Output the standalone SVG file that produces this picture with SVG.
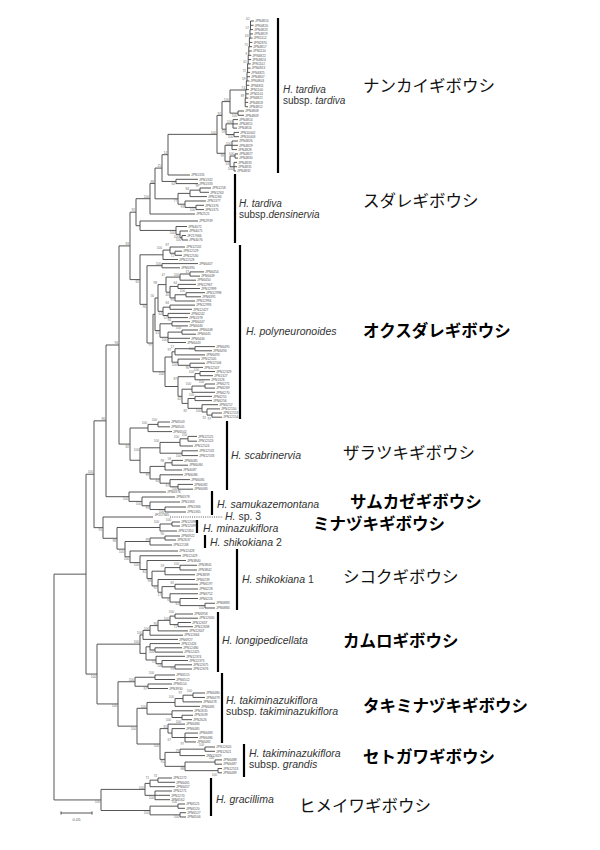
<svg xmlns="http://www.w3.org/2000/svg" width="600" height="850" viewBox="0 0 600 850">
<style>
.br{fill:none;stroke:#4d4d4d;stroke-width:0.95}
.tp{font-family:"Liberation Sans",Arial,sans-serif;font-size:3.3px;fill:#555}
.bs{font-family:"Liberation Sans",Arial,sans-serif;font-size:3.3px;fill:#777;text-anchor:end}
.bar{stroke:#000;stroke-width:2.2}
.sp{font-family:"Liberation Sans",Arial,sans-serif;font-size:10.5px;fill:#333}
.s2{font-size:10px}
.it{font-style:italic}
.jp{font-family:"Noto Sans CJK JP","Noto Sans CJK SC",sans-serif;font-size:16.5px;fill:#111}
.jb{font-weight:bold;fill:#000}
</style>
<rect width="600" height="850" fill="#fff"/>
<g id="connectors">
<path class="br" d="M250.5,21 V29.6 H250 V38.1 H249.4 V46.7 H248.8 V55.3 H248.2 V63.9 H247.6 V72.4 H247 V81 H246.4 V89.6 H245.8 V98.1 H245.2 V106.7
M250.5,21H254 M250.5,25.3H253.5 M250,29.6H253 M250,33.9H253 M249.4,38.1H252.5 M249.4,42.4H252.4 M248.8,46.7H252 M248.8,51H251.8 M248.2,55.3H251.3 M248.2,59.6H251.2 M247.6,63.9H250.7 M247.6,68.1H250.6 M247,72.4H250.1 M247,76.7H250 M246.4,81H249.5 M246.4,85.3H249.4 M245.8,89.6H248.9 M245.8,93.9H248.8 M245.2,98.1H248.3 M245.2,102.4H248.2 M245.2,106.7H248
M238,111V115.3 M238,111H244 M238,115.3H244
M230,90V113.15 M230,90H245.8 M230,113.15H238
M233,119.6V128.1 M233,119.6H238 M233,123.9H238 M233,128.1H237
M234,132.4V136.7 M234,132.4H239 M234,136.7H239
M226,123.85V134.55 M226,123.85H233 M226,134.55H234
M222,101.6V129.2 M222,101.6H230 M222,129.2H226
M232,141V149.6 M232,141H238 M232,145.3H238 M232,149.6H237
M235,153.9V158.1 M235,153.9H238 M235,158.1H238
M234,162.4V171 M234,162.4H237 M234,166.7H237 M234,171H236
M230,156V166.7 M230,156H235 M230,166.7H234
M225,145.3V161.35 M225,145.3H232 M225,161.35H230
M217,115.4V153.3 M217,115.4H222 M217,153.3H225"/>
<path class="br" d="M168,134.35V175 M168,134.35H217 M168,175H190
M176,179.3V183.6 M176,179.3H198 M176,183.6H198
M162,154.7V181.45 M162,154.7H168 M162,181.45H176
M200,188V192.3 M200,188H211 M200,192.3H209
M190,190.15V196.6 M190,190.15H200 M190,196.6H207
M196,205.3V209.6 M196,205.3H204 M196,209.6H204
M185,201V207.45 M185,201H206 M185,207.45H196
M178,193.4V204.2 M178,193.4H190 M178,204.2H185
M155,168.1V198.8 M155,168.1H162 M155,198.8H178
M150,183.45V214 M150,183.45H155 M150,214H195
M182,235.5V240 M182,235.5H186 M182,240H188
M180,231V237.75 M180,231H188 M180,237.75H182
M176,226.5V234.4 M176,226.5H187 M176,234.4H180
M140,221V230.45 M140,221H198 M140,230.45H176
M136,198.7V225.7 M136,198.7H150 M136,225.7H140"/>
<path class="br" d="M175,251.2V255.3 M175,251.2H182 M175,255.3H182
M170,247V253.25 M170,247H185 M170,253.25H175
M163,250.1V259.5 M163,250.1H170 M163,259.5H178
M162,263.6V267.8 M162,263.6H198 M162,267.8H180
M190,271.9V276.1 M190,271.9H204 M190,276.1H200
M180,274V280.2 M180,274H190 M180,280.2H196
M178,284.4V288.5 M178,284.4H196 M178,288.5H200
M186,292.7V296.8 M186,292.7H205 M186,296.8H201
M175,294.75V301 M175,294.75H186 M175,301H195
M170,286.45V297.9 M170,286.45H178 M170,297.9H175
M166,277.1V292.2 M166,277.1H180 M166,292.2H170
M170,305.1V309.3 M170,305.1H195 M170,309.3H192
M168,313.4V317.6 M168,313.4H190 M168,317.6H188
M163,307.2V315.5 M163,307.2H170 M163,315.5H168
M158,284.6V311.35 M158,284.6H166 M158,311.35H163
M172,321.7V325.9 M172,321.7H190 M172,325.9H188
M182,330V334.2 M182,330H198 M182,334.2H196
M168,332.1V342.5 M168,332.1H182 M168,338.3H190 M168,342.5H186
M160,323.8V337.3 M160,323.8H172 M160,337.3H168
M155,298V330.55 M155,298H158 M155,330.55H160
M195,346.6V350.8 M195,346.6H215 M195,350.8H212
M175,348.7V354.9 M175,348.7H195 M175,354.9H205
M190,363.2V367.4 M190,363.2H205 M190,367.4H203
M178,359.1V365.3 M178,359.1H200 M178,365.3H190
M172,351.8V362.2 M172,351.8H175 M172,362.2H178
M200,371.5V375.7 M200,371.5H215 M200,375.7H213
M195,373.6V379.8 M195,373.6H200 M195,379.8H210
M205,384V388.1 M205,384H215 M205,388.1H215
M192,386.05V392.3 M192,386.05H205 M192,392.3H215
M195,396.4V400.6 M195,396.4H212 M195,400.6H212
M212,413V417.2 M212,413H222 M212,417.2H222
M207,408.9V415.1 M207,408.9H220 M207,415.1H212
M202,404.7V412 M202,404.7H218 M202,412H207
M188,398.5V408.35 M188,398.5H195 M188,408.35H202
M182,389.2V403.4 M182,389.2H192 M182,403.4H188
M178,376.7V396.3 M178,376.7H195 M178,396.3H182
M165,357V386.5 M165,357H172 M165,386.5H178
M153,314.3V371.75 M153,314.3H155 M153,371.75H165
M147,265.7V343 M147,265.7H162 M147,343H153
M140,254.8V304.35 M140,254.8H163 M140,304.35H147
M130,212.2V279.6 M130,212.2H136 M130,279.6H140"/>
<path class="br" d="M158,422V426.8 M158,422H170 M158,426.8H170
M148,424.4V431.6 M148,424.4H158 M148,431.6H172
M188,436.4V441.2 M188,436.4H197 M188,441.2H197
M180,438.8V446 M180,438.8H188 M180,446H193
M182,450.8V455.6 M182,450.8H198 M182,455.6H198
M160,442.4V453.2 M160,442.4H180 M160,453.2H182
M172,460.4V465.2 M172,460.4H183 M172,465.2H188
M165,462.8V470 M165,462.8H172 M165,470H182
M178,484.4V489.2 M178,484.4H193 M178,489.2H193
M170,479.6V486.8 M170,479.6H190 M170,486.8H178
M160,474.8V483.2 M160,474.8H183 M160,483.2H170
M150,466.4V479 M150,466.4H165 M150,479H160
M140,447.8V472.7 M140,447.8H160 M140,472.7H150
M130,428V460.25 M130,428H148 M130,460.25H140
M119,245.9V444.1 M119,245.9H130 M119,444.1H130"/>
<path class="br" d="M165,507V512 M165,507H186 M165,512H186
M150,502V509.5 M150,502H180 M150,509.5H165
M142,497V505.75 M142,497H175 M142,505.75H150
M129,492V501.4 M129,492H166 M129,501.4H142
M106,345V496.7 M106,345H119 M106,496.7H129
M172,522V526 M172,522H180 M172,526H180
M160,524V531 M160,524H172 M160,531H177
M165,536V540 M165,536H180 M165,540H176
M150,538V545 M150,538H165 M150,545H172
M180,565.25V570 M180,565.25H197 M180,570H197
M165,567.6V574.75 M165,567.6H180 M165,574.75H195
M205,603.25V608 M205,603.25H215 M205,608H215
M180,598.5V605.6 M180,598.5H198 M180,605.6H205
M170,593.75V602.05 M170,593.75H198 M170,602.05H180
M175,584.25V589 M175,584.25H198 M175,589H198
M162,586.6V597.9 M162,586.6H175 M162,597.9H170
M158,579.5V592.25 M158,579.5H195 M158,592.25H162
M152,571.2V585.9 M152,571.2H165 M152,585.9H158
M147,560.5V578.55 M147,560.5H186 M147,578.55H152
M140,555.75V569.5 M140,555.75H181 M140,569.5H147
M130,551V562.6 M130,551H178 M130,562.6H140
M125,541.5V556.8 M125,541.5H150 M125,556.8H130
M117,527.5V549.15 M117,527.5H160 M117,549.15H125
M103,517V538.3 M103,517H153 M103,538.3H117
M94,420.85V527.65 M94,420.85H106 M94,527.65H103"/>
<path class="br" stroke-dasharray="1,1.2" d="M170,517H223"/>
<path class="br" d="M175,614V618.2 M175,614H193 M175,618.2H198
M178,622.5V626.7 M178,622.5H191 M178,626.7H193
M170,616.1V624.6 M170,616.1H175 M170,624.6H178
M158,620.35V630.9 M158,620.35H170 M158,630.9H188
M150,625.6V635.2 M150,625.6H158 M150,635.2H183
M143,630.4V639.4 M143,630.4H150 M143,639.4H178
M155,647.8V652.1 M155,647.8H182 M155,652.1H183
M150,643.6V649.95 M150,643.6H180 M150,649.95H155
M175,664.8V669 M175,664.8H192 M175,669H192
M162,660.5V666.9 M162,660.5H188 M162,666.9H175
M156,656.3V663.7 M156,656.3H185 M156,663.7H162
M146,646.8V660 M146,646.8H150 M146,660H156
M140,634.9V653.4 M140,634.9H143 M140,653.4H146"/>
<path class="br" d="M155,675V679.5 M155,675H175 M155,679.5H175
M148,684V688.5 M148,684H172 M148,688.5H168
M135,677.25V686.25 M135,677.25H155 M135,686.25H148
M193,693V697.45 M193,693H205 M193,697.45H205
M183,695.2V701.9 M183,695.2H193 M183,701.9H202
M175,698.55V706.35 M175,698.55H183 M175,706.35H200
M182,715.25V719.7 M182,715.25H193 M182,719.7H192
M172,710.8V717.5 M172,710.8H193 M172,717.5H182
M147,702.45V714.15 M147,702.45H175 M147,714.15H172
M185,733.05V741.95 M185,733.05H198 M185,737.5H198 M185,741.95H196
M172,728.6V737.5 M172,728.6H185 M172,737.5H185
M168,724.15V733.05 M168,724.15H185 M168,733.05H172
M205,747V751.3 M205,747H215 M205,751.3H215
M180,749.15V755.6 M180,749.15H205 M180,755.6H205
M215,759.9V764.2 M215,759.9H222 M215,764.2H222
M218,768.5V772.8 M218,768.5H222 M218,772.8H222
M185,762.05V770.65 M185,762.05H215 M185,770.65H218
M165,752.4V766.35 M165,752.4H180 M165,766.35H185
M160,728.6V759.4 M160,728.6H168 M160,759.4H165
M137,708.3V744 M137,708.3H147 M137,744H160
M118,681.75V726.15 M118,681.75H135 M118,726.15H137
M97,644.15V703.95 M97,644.15H140 M97,703.95H118
M86,474.25V674.05 M86,474.25H94 M86,674.05H97"/>
<path class="br" d="M158,778V782.3 M158,778H172 M158,782.3H175
M150,780.15V786.7 M150,780.15H158 M150,786.7H175
M155,791V799.7 M155,791H172 M155,795.3H170 M155,799.7H170
M145,783.4V795.35 M145,783.4H150 M145,795.35H155
M178,804V808.3 M178,804H185 M178,808.3H185
M180,812.7V817 M180,812.7H186 M180,817H186
M150,806.15V814.85 M150,806.15H178 M150,814.85H180
M101,789.4V810.5 M101,789.4H145 M101,810.5H150
M54,574.15V799.95 M54,574.15H86 M54,799.95H101"/>
</g>
<g id="scale-bar">
<path class="br" d="M61,813H92 M61,811.4V814.6 M92,811.4V814.6"/>
<text x="76.5" y="820.5" font-family="Liberation Sans,Arial,sans-serif" font-size="4" fill="#555" text-anchor="middle">0.05</text>
</g>
<g id="backbone-support">
<text class="bs" x="100.2" y="803">100</text>
<text class="bs" x="93.2" y="473.4">100</text>
<text class="bs" x="96.2" y="677.5">100</text>
<text class="bs" x="105.2" y="420">86</text>
<text class="bs" x="102.2" y="531">91</text>
<text class="bs" x="118.2" y="344.2">94</text>
<text class="bs" x="128.2" y="500.1">100</text>
<text class="bs" x="129.2" y="245.1">83</text>
<text class="bs" x="129.2" y="447.5">82</text>
<text class="bs" x="116.2" y="541.7">98</text>
<text class="bs" x="117.2" y="707.35">100</text>
</g>
<g id="clade-tardiva">
<line class="bar" x1="278" y1="18" x2="278" y2="173"/>
<text class="sp s2" x="283" y="92.5"><tspan class="it">H. tardiva</tspan></text>
<text class="sp s2" x="283" y="103.5">subsp. <tspan class="it">tardiva</tspan></text>
<text class="jp" x="363" y="92">ナンカイギボウシ</text>
<text class="bs" x="249.7" y="20.4">62</text><text class="bs" x="249.2" y="28.8">57</text><text class="bs" x="248.6" y="37.3">63</text><text class="bs" x="248" y="45.9">75</text><text class="bs" x="247.4" y="54.5">8</text><text class="bs" x="246.8" y="63.1">61</text><text class="bs" x="246.2" y="71.6">72</text><text class="bs" x="245.6" y="80.2">59</text><text class="bs" x="245" y="88.8">74</text><text class="bs" x="244.4" y="97.3">89</text>
<text class="bs" x="216.2" y="133.5">100</text><text class="bs" x="221.2" y="114.6">92</text><text class="bs" x="224.2" y="156.7">99</text><text class="bs" x="229.2" y="100.8">100</text><text class="bs" x="225.2" y="132.6">59</text><text class="bs" x="237.2" y="116.6">100</text><text class="bs" x="232.2" y="123.1">100</text><text class="bs" x="233.2" y="137.9">100</text><text class="bs" x="231.2" y="144.5">100</text><text class="bs" x="229.2" y="164.7">63</text><text class="bs" x="234.2" y="155.2">100</text><text class="bs" x="233.2" y="170.1">100</text>
<text class="tp" x="255" y="22.2">JPN4810</text><text class="tp" x="254.5" y="26.5">JPN4820</text><text class="tp" x="254" y="30.8">JPN4823</text><text class="tp" x="254" y="35.1">JPN4819</text><text class="tp" x="253.5" y="39.3">JPN1112</text><text class="tp" x="253.4" y="43.6">JPN2870</text><text class="tp" x="253" y="47.9">JPN4817</text><text class="tp" x="252.8" y="52.2">JPN1110</text><text class="tp" x="252.3" y="56.5">JPN4822</text><text class="tp" x="252.2" y="60.8">JPN4824</text><text class="tp" x="251.7" y="65.1">JPN1102</text><text class="tp" x="251.6" y="69.3">JPN4813</text><text class="tp" x="251.1" y="73.6">JPN4825</text><text class="tp" x="251" y="77.9">JPN4807</text><text class="tp" x="250.5" y="82.2">JPN4803</text><text class="tp" x="250.4" y="86.5">JPN4811</text><text class="tp" x="249.9" y="90.8">JPN1100</text><text class="tp" x="249.8" y="95.1">JPN1101</text><text class="tp" x="249.3" y="99.3">JPN4821</text><text class="tp" x="249.2" y="103.6">JPN4818</text><text class="tp" x="249" y="107.9">JPN4812</text>
<text class="tp" x="245" y="112.2">JPN4808</text><text class="tp" x="245" y="116.5">JPN4809</text><text class="tp" x="239" y="120.8">JPN4814</text><text class="tp" x="239" y="125.1">JPN4815</text><text class="tp" x="238" y="129.3">JPN4816</text><text class="tp" x="240" y="133.6">JPN10002</text><text class="tp" x="240" y="137.9">JPN10003</text><text class="tp" x="239" y="142.2">JPN4826</text><text class="tp" x="239" y="146.5">JPN4829</text><text class="tp" x="238" y="150.8">JPN4828</text><text class="tp" x="239" y="155.1">JPN4827</text><text class="tp" x="239" y="159.3">JPN4830</text><text class="tp" x="238" y="163.6">JPN4833</text><text class="tp" x="238" y="167.9">JPN4831</text><text class="tp" x="237" y="172.2">JPN4832</text>
</g>
<g id="clade-densinervia">
<line class="bar" x1="235" y1="174" x2="235" y2="243"/>
<text class="sp s2" x="239" y="206.5"><tspan class="it">H. tardiva</tspan></text>
<text class="sp s2" x="239" y="217.5">subsp.<tspan class="it">densinervia</tspan></text>
<text class="jp" x="363" y="207">スダレギボウシ</text>
<text class="bs" x="135.2" y="211.4">92</text><text class="bs" x="149.2" y="197.9">100</text><text class="bs" x="154.2" y="182.6">88</text><text class="bs" x="161.2" y="167.3">25</text><text class="bs" x="167.2" y="153.9">14</text><text class="bs" x="175.2" y="184.9">64</text><text class="bs" x="177.2" y="202.2">77</text><text class="bs" x="189.2" y="189.6">84</text><text class="bs" x="199.2" y="187.3">99</text><text class="bs" x="184.2" y="207.6">93</text><text class="bs" x="195.2" y="210.9">100</text><text class="bs" x="175.2" y="233.9">100</text><text class="bs" x="179.2" y="237.8">100</text><text class="bs" x="181.2" y="241.2">100</text>
<text class="tp" x="191" y="176.2">JPN1331</text><text class="tp" x="199" y="180.5">JPN1332</text><text class="tp" x="199" y="184.8">JPN1333</text><text class="tp" x="212" y="189.2">JPN1258</text><text class="tp" x="210" y="193.5">JPN1263</text><text class="tp" x="208" y="197.8">JPN1266</text><text class="tp" x="207" y="202.2">JPN1377</text><text class="tp" x="205" y="206.5">JPN1376</text><text class="tp" x="205" y="210.8">JPN1375</text><text class="tp" x="196" y="215.2">JPN2521</text><text class="tp" x="199" y="222.2">JPN2939</text><text class="tp" x="188" y="227.7">JPN4072</text><text class="tp" x="189" y="232.2">JPN4071</text><text class="tp" x="187" y="236.7">JF217666</text><text class="tp" x="189" y="241.2">JPN4076</text>
</g>
<g id="clade-polyneuronoides">
<line class="bar" x1="240" y1="245" x2="240" y2="419"/>
<text class="sp" x="246" y="335"><tspan class="it">H. polyneuronoides</tspan></text>
<text class="jp jb" x="363" y="337">オクスダレギボウシ</text>
<text class="bs" x="139.2" y="283">82</text><text class="bs" x="162.2" y="249.3">100</text><text class="bs" x="169.2" y="246.2">87</text><text class="bs" x="174.2" y="256.65">71</text><text class="bs" x="161.2" y="264.9">100</text><text class="bs" x="146.2" y="307.75">96</text><text class="bs" x="152.2" y="346.4">97</text><text class="bs" x="154.2" y="297.2">56</text><text class="bs" x="164.2" y="375.15">100</text><text class="bs" x="157.2" y="283.8">98</text><text class="bs" x="159.2" y="333.95">61</text><text class="bs" x="165.2" y="276.3">47</text><text class="bs" x="162.2" y="314.75">64</text><text class="bs" x="179.2" y="276.3">100</text><text class="bs" x="189.2" y="273.4">37</text><text class="bs" x="169.2" y="295.6">46</text><text class="bs" x="177.2" y="283.6">64</text><text class="bs" x="174.2" y="301.3">91</text><text class="bs" x="185.2" y="291.9">100</text><text class="bs" x="169.2" y="304.3">84</text><text class="bs" x="167.2" y="318.9">52</text><text class="bs" x="171.2" y="320.9">94</text><text class="bs" x="167.2" y="340.7">100</text><text class="bs" x="181.2" y="329.2">100</text><text class="bs" x="171.2" y="351">97</text><text class="bs" x="174.2" y="347.9">17</text><text class="bs" x="194.2" y="349.6">100</text><text class="bs" x="177.2" y="365.6">100</text><text class="bs" x="189.2" y="368.7">96</text><text class="bs" x="177.2" y="379.9">87</text><text class="bs" x="194.2" y="372.8">100</text><text class="bs" x="199.2" y="370.7">100</text><text class="bs" x="181.2" y="399.7">62</text><text class="bs" x="191.2" y="385.2">100</text><text class="bs" x="204.2" y="383.2">100</text><text class="bs" x="187.2" y="411.75">82</text><text class="bs" x="194.2" y="395.6">100</text><text class="bs" x="201.2" y="411.75">100</text><text class="bs" x="206.2" y="418.5">92</text><text class="bs" x="211.2" y="420.4">97</text>
<text class="tp" x="186" y="248.2">JPN12532</text><text class="tp" x="183" y="252.4">JPN12529</text><text class="tp" x="183" y="256.5">JPN12530</text><text class="tp" x="179" y="260.7">JPN12528</text><text class="tp" x="199" y="264.8">JPN6407</text><text class="tp" x="181" y="269">JPN6390</text><text class="tp" x="205" y="273.1">JPN6454</text><text class="tp" x="201" y="277.3">JPN6449</text><text class="tp" x="197" y="281.4">JPN6450</text><text class="tp" x="197" y="285.6">JPN12967</text><text class="tp" x="201" y="289.7">JPN12999</text><text class="tp" x="206" y="293.9">JPN12998</text><text class="tp" x="202" y="298">JPN6391</text><text class="tp" x="196" y="302.2">JPN12994</text><text class="tp" x="196" y="306.3">JPN12993</text><text class="tp" x="193" y="310.5">JPN12427</text><text class="tp" x="191" y="314.6">JPN6242</text><text class="tp" x="189" y="318.8">JPN1378</text><text class="tp" x="191" y="322.9">JPN6447</text><text class="tp" x="189" y="327.1">JPN6446</text><text class="tp" x="199" y="331.2">JPN6448</text><text class="tp" x="197" y="335.4">JPN6445</text><text class="tp" x="191" y="339.5">JPN6444</text><text class="tp" x="187" y="343.7">JPN6443</text><text class="tp" x="216" y="347.8">JPN6495</text><text class="tp" x="213" y="352">JPN6494</text><text class="tp" x="206" y="356.1">JPN6493</text><text class="tp" x="201" y="360.3">JPN12505</text><text class="tp" x="206" y="364.4">JPN12506</text><text class="tp" x="204" y="368.6">JPN12507</text><text class="tp" x="216" y="372.7">JPN12329</text><text class="tp" x="214" y="376.9">JPN1327</text><text class="tp" x="211" y="381">JPN1326</text><text class="tp" x="216" y="385.2">JPN6271</text><text class="tp" x="216" y="389.3">JPN6269</text><text class="tp" x="216" y="393.5">JPN6270</text><text class="tp" x="213" y="397.6">JPN6255</text><text class="tp" x="213" y="401.8">JPN6256</text><text class="tp" x="219" y="405.9">JPN6257</text><text class="tp" x="221" y="410.1">JPN12150</text><text class="tp" x="223" y="414.2">JPN12153</text><text class="tp" x="223" y="418.4">JPN12154</text>
</g>
<g id="clade-scabrinervia">
<line class="bar" x1="227" y1="421" x2="227" y2="490"/>
<text class="sp" x="231" y="459"><tspan class="it">H. scabrinervia</tspan></text>
<text class="jp" x="343" y="459">ザラツキギボウシ</text>
<text class="bs" x="147.2" y="423.6">100</text><text class="bs" x="157.2" y="421.2">100</text><text class="bs" x="139.2" y="451.2">100</text><text class="bs" x="159.2" y="441.6">100</text><text class="bs" x="179.2" y="438">100</text><text class="bs" x="187.2" y="435.6">100</text><text class="bs" x="181.2" y="456.6">100</text><text class="bs" x="149.2" y="476.1">99</text><text class="bs" x="164.2" y="462">98</text><text class="bs" x="171.2" y="459.6">58</text><text class="bs" x="159.2" y="482.4">64</text><text class="bs" x="169.2" y="486.6">97</text><text class="bs" x="177.2" y="490.2">100</text>
<text class="tp" x="171" y="423.2">JPN6503</text><text class="tp" x="171" y="428">JPN6501</text><text class="tp" x="173" y="432.8">JPN6502</text><text class="tp" x="198" y="437.6">JPN12525</text><text class="tp" x="198" y="442.4">JPN12523</text><text class="tp" x="194" y="447.2">JPN12524</text><text class="tp" x="199" y="452">JPN12531</text><text class="tp" x="199" y="456.8">JPN12533</text><text class="tp" x="184" y="461.6">JPN6085</text><text class="tp" x="189" y="466.4">JPN6084</text><text class="tp" x="183" y="471.2">JPN4087</text><text class="tp" x="184" y="476">JPN6086</text><text class="tp" x="191" y="480.8">JPN6081</text><text class="tp" x="194" y="485.6">JPN6082</text><text class="tp" x="194" y="490.4">JPN6083</text>
</g>
<g id="clade-samukazemontana">
<line class="bar" x1="212" y1="491" x2="212" y2="515"/>
<text class="sp" x="217" y="508"><tspan class="it">H. samukazemontana</tspan></text>
<text class="jp jb" x="350" y="508">サムカゼギボウシ</text>
<text class="bs" x="141.2" y="504.8">100</text><text class="bs" x="149.2" y="509.15">99</text><text class="bs" x="164.2" y="512.9">100</text>
<text class="tp" x="167" y="493.2">JPN6376</text><text class="tp" x="176" y="498.2">JPN6378</text><text class="tp" x="181" y="503.2">JPN1363</text><text class="tp" x="187" y="508.2">JPN1366</text><text class="tp" x="187" y="513.2">JPN1365</text>
</g>
<g id="taxon-sp3">
<text class="tp" x="154.5" y="516">JF217665</text>
<text class="sp" x="225" y="519.5" font-size="10"><tspan class="it">H.</tspan> sp. 3</text>
</g>
<g id="clade-minazukiflora">
<line class="bar" x1="197" y1="520" x2="197" y2="533"/>
<text class="sp" x="203" y="531.5" font-size="10.2"><tspan class="it">H. minazukiflora</tspan></text>
<text class="jp jb" x="313" y="530">ミナヅキギボウシ</text>
<text class="bs" x="159.2" y="523.2">100</text><text class="bs" x="171.2" y="521.2">100</text>
<text class="tp" x="181" y="523.2">JPN12098</text><text class="tp" x="181" y="527.2">JPN12099</text><text class="tp" x="178" y="532.2">JPN12310</text>
</g>
<g id="clade-shikokiana2">
<line class="bar" x1="205" y1="535" x2="205" y2="548"/>
<text class="sp" x="210" y="546"><tspan class="it">H. shikokiana</tspan> 2</text>
<text class="bs" x="124.2" y="552.55">100</text><text class="bs" x="149.2" y="540.7">99</text><text class="bs" x="164.2" y="535.2">90</text>
<text class="tp" x="181" y="537.2">JPN6922</text><text class="tp" x="177" y="541.2">JPN2637</text><text class="tp" x="173" y="546.2">JPN12138</text>
</g>
<g id="clade-shikokiana1">
<line class="bar" x1="237" y1="549" x2="237" y2="610"/>
<text class="sp" x="242" y="583"><tspan class="it">H. shikokiana</tspan> 1</text>
<text class="jp" x="343" y="583">シコクギボウシ</text>
<text class="bs" x="129.2" y="560.2">100</text><text class="bs" x="139.2" y="566">100</text><text class="bs" x="146.2" y="572.9">81</text><text class="bs" x="151.2" y="581.95">98</text><text class="bs" x="164.2" y="566.8">59</text><text class="bs" x="179.2" y="564.5">100</text><text class="bs" x="157.2" y="589.3">92</text><text class="bs" x="161.2" y="595.65">17</text><text class="bs" x="174.2" y="583.6">82</text><text class="bs" x="169.2" y="601.3">6</text><text class="bs" x="179.2" y="605.45">62</text><text class="bs" x="204.2" y="609">100</text>
<text class="tp" x="179" y="552.2">JPN12428</text><text class="tp" x="182" y="556.95">JPN12429</text><text class="tp" x="187" y="561.7">JPN3840</text><text class="tp" x="198" y="566.45">JPN3841</text><text class="tp" x="198" y="571.2">JPN3842</text><text class="tp" x="196" y="575.95">JPN3839</text><text class="tp" x="196" y="580.7">JPN6239</text><text class="tp" x="199" y="585.45">JPN6197</text><text class="tp" x="199" y="590.2">JPN6228</text><text class="tp" x="199" y="594.95">JPN6752</text><text class="tp" x="199" y="599.7">JPN6226</text><text class="tp" x="216" y="604.45">JPN6883</text><text class="tp" x="216" y="609.2">JPN6884</text>
</g>
<g id="clade-longipedicellata">
<line class="bar" x1="218" y1="612" x2="218" y2="672"/>
<text class="sp" x="222" y="644"><tspan class="it">H. longipedicellata</tspan></text>
<text class="jp jb" x="343" y="647">カムロギボウシ</text>
<text class="bs" x="139.2" y="643.35">100</text><text class="bs" x="142.2" y="634.1">100</text><text class="bs" x="149.2" y="629.6">100</text><text class="bs" x="157.2" y="624.8">90</text><text class="bs" x="169.2" y="619.55">100</text><text class="bs" x="174.2" y="613.3">100</text><text class="bs" x="177.2" y="628">71</text><text class="bs" x="154.2" y="653.35">100</text><text class="bs" x="155.2" y="663.4">72</text><text class="bs" x="161.2" y="667.1">54</text><text class="bs" x="174.2" y="670.3">93</text>
<text class="tp" x="194" y="615.2">JPN6958</text><text class="tp" x="199" y="619.4">JPN12630</text><text class="tp" x="192" y="623.7">JPN12637</text><text class="tp" x="194" y="627.9">JPN12638</text><text class="tp" x="189" y="632.1">JPN12647</text><text class="tp" x="184" y="636.4">JPN12664</text><text class="tp" x="179" y="640.6">JPN6927</text><text class="tp" x="181" y="644.8">JPN12426</text><text class="tp" x="183" y="649">JPN12480</text><text class="tp" x="184" y="653.3">JPN12425</text><text class="tp" x="186" y="657.5">JPN12374</text><text class="tp" x="189" y="661.7">JPN12373</text><text class="tp" x="193" y="666">JPN12675</text><text class="tp" x="193" y="670.2">JPN12676</text>
</g>
<g id="clade-takiminazukiflora">
<line class="bar" x1="222" y1="673" x2="222" y2="743"/>
<text class="sp" x="226" y="704"><tspan class="it">H. takiminazukiflora</tspan></text>
<text class="sp" x="226" y="715">subsp. <tspan class="it">takiminazukiflora</tspan></text>
<text class="jp jb" x="363" y="712">タキミナヅキギボウシ</text>
<text class="bs" x="134.2" y="680.95">100</text><text class="bs" x="154.2" y="674.2">100</text><text class="bs" x="147.2" y="689.65">97</text><text class="bs" x="136.2" y="729.55">100</text><text class="bs" x="146.2" y="707.5">100</text><text class="bs" x="174.2" y="697.75">100</text><text class="bs" x="182.2" y="694.4">97</text><text class="bs" x="192.2" y="692.2">100</text><text class="bs" x="171.2" y="720.9">100</text><text class="bs" x="181.2" y="723.1">100</text><text class="bs" x="159.2" y="747.4">100</text><text class="bs" x="167.2" y="727.8">81</text><text class="bs" x="171.2" y="740.9">67</text><text class="bs" x="184.2" y="745.3">97</text>
<text class="tp" x="176" y="676.2">JPN6515</text><text class="tp" x="176" y="680.7">JPN6512</text><text class="tp" x="173" y="685.2">JPN6514</text><text class="tp" x="169" y="689.7">JPN3930</text><text class="tp" x="206" y="694.2">JPN6480</text><text class="tp" x="206" y="698.65">JPN6479</text><text class="tp" x="203" y="703.1">JPN6478</text><text class="tp" x="201" y="707.55">JPN6481</text><text class="tp" x="194" y="712">JPN2635</text><text class="tp" x="194" y="716.45">JPN2639</text><text class="tp" x="193" y="720.9">JPN2626</text><text class="tp" x="186" y="725.35">JPN6484</text><text class="tp" x="186" y="729.8">JPN6485</text><text class="tp" x="199" y="734.25">JPN6483</text><text class="tp" x="199" y="738.7">JPN6486</text><text class="tp" x="197" y="743.15">JPN6482</text>
</g>
<g id="clade-grandis">
<line class="bar" x1="244" y1="744" x2="244" y2="777"/>
<text class="sp" x="249" y="757"><tspan class="it">H. takiminazukiflora</tspan></text>
<text class="sp" x="249" y="768">subsp. <tspan class="it">grandis</tspan></text>
<text class="jp jb" x="363" y="763">セトガワギボウシ</text>
<text class="bs" x="164.2" y="762.8">95</text><text class="bs" x="179.2" y="751.6">79</text><text class="bs" x="204.2" y="746.3">100</text><text class="bs" x="184.2" y="769.75">88</text><text class="bs" x="214.2" y="759.1">100</text><text class="bs" x="217.2" y="776.2">100</text>
<text class="tp" x="216" y="748.2">JPN12620</text><text class="tp" x="216" y="752.5">JPN12621</text><text class="tp" x="206" y="756.8">JPN12619</text><text class="tp" x="223" y="761.1">JPN6488</text><text class="tp" x="223" y="765.4">JPN6487</text><text class="tp" x="223" y="769.7">JPN12513</text><text class="tp" x="223" y="774">JPN6489</text>
</g>
<g id="clade-gracillima">
<line class="bar" x1="211" y1="778" x2="211" y2="816"/>
<text class="sp" x="216" y="803"><tspan class="it">H. gracillima</tspan></text>
<text class="jp" x="299" y="812">ヒメイワギボウシ</text>
<text class="bs" x="144.2" y="788.6">100</text><text class="bs" x="149.2" y="779.4">71</text><text class="bs" x="157.2" y="777.2">74</text><text class="bs" x="154.2" y="798.75">100</text><text class="bs" x="149.2" y="813.9">100</text><text class="bs" x="177.2" y="803.2">100</text><text class="bs" x="179.2" y="818.25">100</text>
<text class="tp" x="173" y="779.2">JPN1272</text><text class="tp" x="176" y="783.5">JPN6461</text><text class="tp" x="176" y="787.9">JPN6457</text><text class="tp" x="173" y="792.2">JPN1271</text><text class="tp" x="171" y="796.5">JPN1270</text><text class="tp" x="171" y="800.9">JPN6562</text><text class="tp" x="186" y="805.2">JPN6521</text><text class="tp" x="186" y="809.5">JPN6520</text><text class="tp" x="187" y="813.9">JPN6527</text><text class="tp" x="187" y="818.2">JPN6506</text>
</g>
</svg>
